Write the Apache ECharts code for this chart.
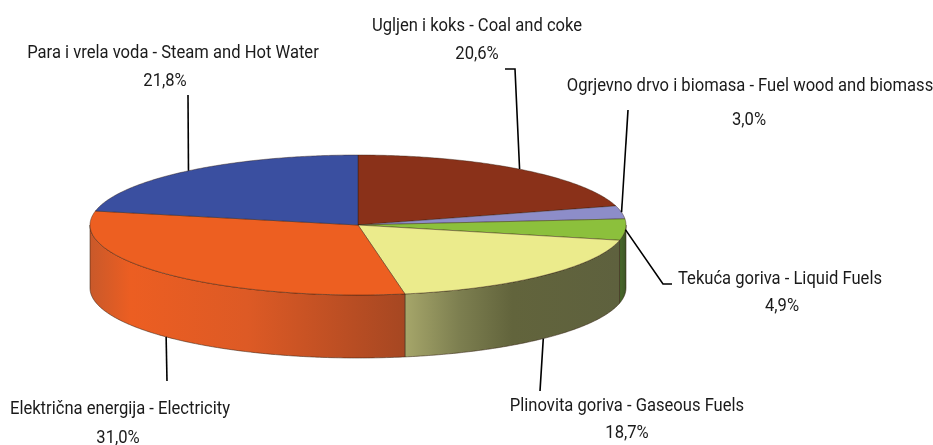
<!DOCTYPE html>
<html>
<head>
<meta charset="utf-8">
<style>html,body{margin:0;padding:0;background:#fff}#c{width:933px;height:445px}</style>
<script src="https://cdn.jsdelivr.net/npm/echarts@6/dist/echarts.min.js"></script>
</head>
<body>
<div id="c"></div>
<script>
// Data
const categories = [
  'Ugljen i koks - Coal and coke',
  'Ogrjevno drvo i biomasa - Fuel wood and biomass',
  'Tekuća goriva - Liquid Fuels',
  'Plinovita goriva - Gaseous Fuels',
  'Električna energija - Electricity',
  'Para i vrela voda - Steam and Hot Water'
];
const shares = [20.6, 3.0, 4.9, 18.7, 31.0, 21.8];
const percentLabels = ['20,6%', '3,0%', '4,9%', '18,7%', '31,0%', '21,8%'];

// Styles
const topColors = ['#8a3119', '#8d8dc9', '#8cc03c', '#ebeb8c', '#ed5f21', '#3a4fa0'];
const wallStops = [
  null, null,
  [[0, '#4a6a2a'], [1, '#3d5526']],
  [[0, '#a6a66a'], [0.25, '#7d7f50'], [0.5, '#62643c'], [1, '#5e613e']],
  [[0, '#c9592a'], [0.13, '#ec5e22'], [0.5, '#dd5a25'], [1, '#a64722']],
  null
];

// Layout
const CX = 358, CY = 225, RX = 268, RY = 70, DEPTH = 63;
const textPos = [
  [[477, 26], [477, 54]],
  [[750, 86], [749, 120]],
  [[780, 279], [782, 306]],
  [[627, 406], [627, 433]],
  [[120, 409], [118, 438]],
  [[173, 53], [165, 81]]
];
// path of each leader line beyond the anchor on the pie rim
const leaderTail = [
  [[515, 69], [505, 69]],
  [[628, 110]],
  [[663, 284], [672, 284]],
  [[540, 391]],
  [[167, 381]],
  [[188, 95]]
];
const FONT = '19px Roboto, "Noto Sans", sans-serif';
const TEXT_SQUEEZE = 0.873;

const total = shares.reduce((a, b) => a + b, 0);
const starts = [];
shares.reduce((acc, v, i) => { starts[i] = acc; return acc + v; }, 0);
const ang = p => p / total * 2 * Math.PI;
const px = t => CX + RX * Math.sin(t);
const py = (t, d) => CY - RY * Math.cos(t) + (d || 0);

function arc(a, b, d) {
  const pts = [], n = Math.max(2, Math.ceil((b - a) / 0.01));
  for (let i = 0; i <= n; i++) {
    const t = a + (b - a) * i / n;
    pts.push([px(t), py(t, d)]);
  }
  return pts;
}

function renderWall(params, api) {
  const i = params.dataIndex;
  const a = Math.max(ang(api.value(0)), Math.PI / 2);
  const b = Math.min(ang(api.value(0) + api.value(1)), 3 * Math.PI / 2);
  if (!wallStops[i] || b <= a) return null;
  const top = arc(a, b, 0), bottom = arc(a, b, DEPTH).reverse();
  const xs = top.map(p => p[0]);
  return {
    type: 'polygon', silent: true,
    shape: { points: top.concat(bottom) },
    style: {
      fill: new echarts.graphic.LinearGradient(Math.min(...xs), 0, Math.max(...xs), 0,
        wallStops[i].map(s => ({ offset: s[0], color: s[1] })), true),
      stroke: 'rgba(50,30,15,0.75)', lineWidth: 0.7
    }
  };
}

function renderTop(params, api) {
  const i = params.dataIndex;
  const a = ang(api.value(0)), b = ang(api.value(0) + api.value(1));
  return {
    type: 'polygon', silent: true,
    shape: { points: [[CX, CY]].concat(arc(a, b, 0)) },
    style: { fill: topColors[i], stroke: 'rgba(50,30,15,0.6)', lineWidth: 0.7 }
  };
}

function renderLeader(params, api) {
  const i = params.dataIndex;
  const mid = ang(api.value(0) + api.value(1) / 2);
  const d = Math.cos(mid) < -0.5 ? DEPTH : 0;
  return {
    type: 'polyline', silent: true,
    shape: { points: [[px(mid), py(mid, d)]].concat(leaderTail[i]) },
    style: { fill: null, stroke: '#000', lineWidth: 1.6 }
  };
}

function renderLabel(params) {
  const i = params.dataIndex;
  const mk = (text, p) => ({
    type: 'text', silent: true,
    x: p[0], y: p[1], scaleX: TEXT_SQUEEZE,
    style: { text, x: 0, y: 0, fill: '#1a1a1a', font: FONT, align: 'center', verticalAlign: 'middle' }
  });
  return { type: 'group', children: [mk(categories[i], textPos[i][0]), mk(percentLabels[i], textPos[i][1])] };
}

const rows = shares.map((v, i) => [starts[i], v]);
const base = { type: 'custom', coordinateSystem: 'none', data: rows, animation: false, silent: true,
  encode: { tooltip: [] } };
const chart = echarts.init(document.getElementById('c'), null, { renderer: 'canvas' });
chart.setOption({
  backgroundColor: '#fff',
  animation: false,
  series: [
    Object.assign({}, base, { name: 'walls', z: 1, renderItem: renderWall }),
    Object.assign({}, base, { name: 'tops', z: 2, renderItem: renderTop }),
    Object.assign({}, base, { name: 'leaders', z: 3, renderItem: renderLeader }),
    Object.assign({}, base, { name: 'labels', z: 4, renderItem: renderLabel })
  ]
});
</script>
</body>
</html>
